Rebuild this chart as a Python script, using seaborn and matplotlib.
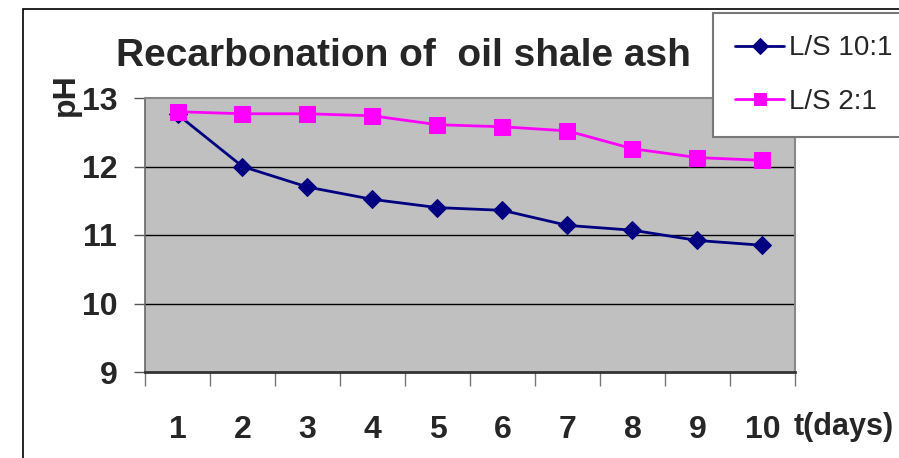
import matplotlib
matplotlib.use("Agg")
import matplotlib.pyplot as plt
from matplotlib.patches import Rectangle
from matplotlib.ticker import FixedLocator
import seaborn as sns
import pandas as pd

# ---- data ----
days = [1, 2, 3, 4, 5, 6, 7, 8, 9, 10]
ph_ls_10_1 = [12.76, 12.00, 11.70, 11.52, 11.40, 11.36, 11.14, 11.07, 10.92, 10.85]
ph_ls_2_1 = [12.80, 12.77, 12.77, 12.74, 12.61, 12.58, 12.52, 12.26, 12.13, 12.09]
series_names = ["L/S 10:1", "L/S 2:1"]
y_ticks = [9, 10, 11, 12, 13]
title_text = "Recarbonation of  oil shale ash"
y_label = "pH"
x_label = "t(days)"

df = pd.DataFrame({
    "day": days * 2,
    "pH": ph_ls_10_1 + ph_ls_2_1,
    "series": [series_names[0]] * len(days) + [series_names[1]] * len(days),
})

sns.set_theme(style="white")
plt.rcParams["font.family"] = ["Liberation Sans", "DejaVu Sans"]

W, H = 899, 458
fig = plt.figure(figsize=(W / 100, H / 100), dpi=100)
L, R, T, B = 145, 795, 98, 372
ax = fig.add_axes([L / W, 1 - B / H, (R - L) / W, (B - T) / H])
ax.set_facecolor("#C0C0C0")

palette = {series_names[0]: "#000080", series_names[1]: "#FF00FF"}
markers = {series_names[0]: "D", series_names[1]: "s"}
sizes = {series_names[0]: 9, series_names[1]: 12}
for name in series_names:
    sub = df[df["series"] == name]
    sns.lineplot(data=sub, x="day", y="pH", ax=ax, color=palette[name],
                 marker=markers[name], markersize=sizes[name],
                 markeredgecolor=palette[name], linewidth=2, label=name,
                 legend=False, zorder=3 if name == series_names[0] else 4)

ax.set_xlim(days[0] - 0.5, days[-1] + 0.5)
ax.set_ylim(y_ticks[0], y_ticks[-1])

# gridlines
ax.set_yticks(y_ticks)
for v in y_ticks[1:-1]:
    ax.axhline(v, color="black", lw=1, zorder=1)

ax.set_yticklabels([str(v) for v in y_ticks], fontsize=23, fontweight="bold")
ax.tick_params(axis="y", which="major", length=8, width=1, color="#555555",
               pad=12, left=True, direction="out")

ax.set_xticks(days)
ax.set_xticklabels([str(d) for d in days], fontsize=23, fontweight="bold")
ax.tick_params(axis="x", which="major", length=0, pad=31)
ax.xaxis.set_minor_locator(FixedLocator([d - 0.5 for d in days] + [days[-1] + 0.5]))
ax.tick_params(axis="x", which="minor", length=10, width=1, color="#777777",
               bottom=True, direction="out")

ax.set_xlabel("")
ax.set_ylabel("")

for side in ["top", "right"]:
    ax.spines[side].set_color("#888888")
    ax.spines[side].set_linewidth(1.5)
ax.spines["left"].set_color("#666666")
ax.spines["left"].set_linewidth(1.2)
ax.spines["bottom"].set_color("#333333")
ax.spines["bottom"].set_linewidth(2)

# titles and labels
fig.text(403 / W, 1 - 66 / H, title_text, ha="center", va="baseline",
         fontsize=28, fontweight="bold")
fig.text(66 / W, 1 - 95 / H, y_label, rotation=90, ha="center", va="center",
         fontsize=23, fontweight="bold")
fig.text(844 / W, 1 - 427 / H, x_label, ha="center", va="center",
         fontsize=22, fontweight="bold")

# legend
handles, labels = ax.get_legend_handles_labels()
leg = fig.legend(handles, labels, loc="upper left",
                 bbox_to_anchor=(713 / W, 1 - 13 / H),
                 bbox_transform=fig.transFigure,
                 fontsize=20, frameon=True, fancybox=False,
                 edgecolor="#777777", facecolor="white", framealpha=1,
                 handlelength=1.75, handletextpad=0.2, borderpad=0.8,
                 borderaxespad=0, labelspacing=1.0)
leg.get_frame().set_linewidth(1.5)
for h in leg.legend_handles:
    h.set_markersize(8)
leg.set_zorder(10)

# outer chart frame
fig.add_artist(Rectangle((23 / W, -0.2), 2, 1.2 - 9 / H,
                         transform=fig.transFigure, fill=False,
                         ec="black", lw=1.2))

fig.savefig("out.png", dpi=100)
